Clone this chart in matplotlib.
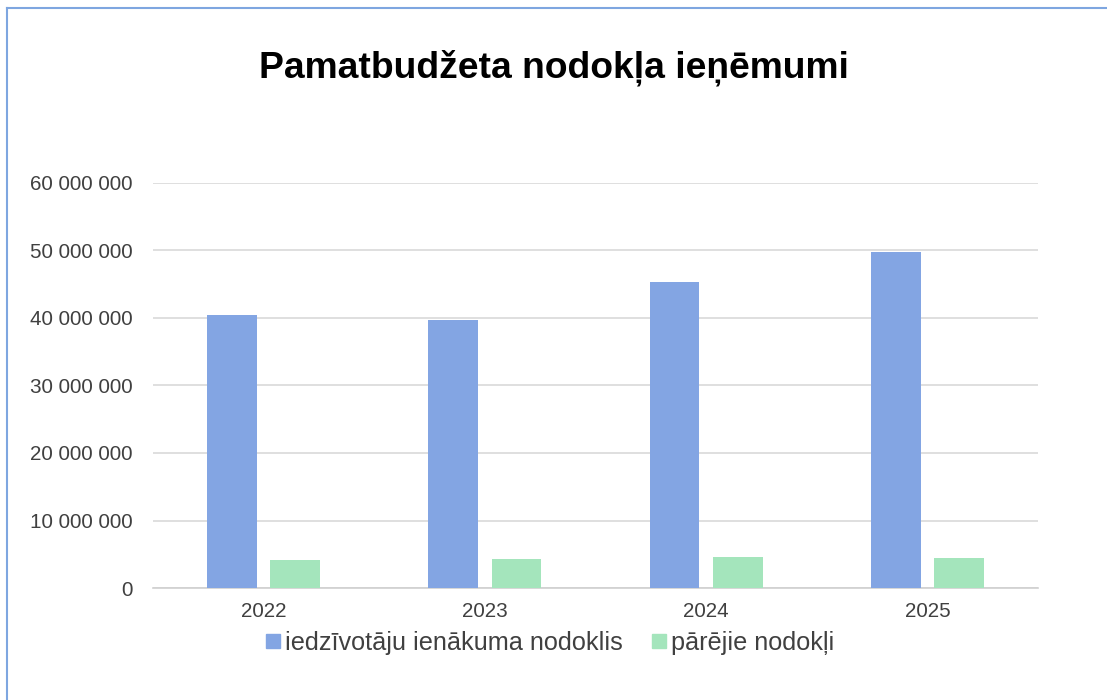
import matplotlib
matplotlib.use("Agg")
import matplotlib.pyplot as plt
import numpy as np
from matplotlib.ticker import FuncFormatter
from matplotlib.lines import Line2D

plt.rcParams['font.family'] = ['Liberation Sans', 'DejaVu Sans']

years = ["2022", "2023", "2024", "2025"]
series_names = ["iedzīvotāju ienākuma nodoklis", "pārējie nodokļi"]
iin = [40400000, 39700000, 45300000, 49800000]
other = [4200000, 4300000, 4550000, 4400000]
title = "Pamatbudžeta nodokļa ieņēmumi"

blue = "#83A5E3"
green = "#A4E5BC"

fig = plt.figure(figsize=(11.07, 7.0), dpi=100)
ax = fig.add_axes([153/1107, 1-588/700, (1038-153)/1107, (588-183)/700])

x = np.arange(len(years))
w = 0.225
off = 0.143
ax.bar(x - off, iin, width=w, color=blue, label=series_names[0], zorder=3)
ax.bar(x + off, other, width=w, color=green, label=series_names[1], zorder=3)

ax.set_xlim(-0.5, len(years) - 0.5)
ax.set_ylim(0, 60000000)
ax.set_yticks(np.arange(0, 60000001, 10000000))
ax.yaxis.set_major_formatter(FuncFormatter(lambda v, p: f"{int(v):,}".replace(",", " ")))
ax.set_xticks(x)
ax.set_xticklabels(years)
ax.grid(axis='y', color='#d9d9d9', linewidth=1.2, zorder=0)
for s in ['top', 'right', 'left']:
    ax.spines[s].set_visible(False)
ax.spines['bottom'].set_color('#d0d0d0')
ax.spines['bottom'].set_linewidth(1.2)
ax.tick_params(axis='both', length=0, labelsize=14.9, colors='#404040')
ax.tick_params(axis='y', pad=15)
ax.tick_params(axis='x', pad=10)

fig.text(0.5, 1-68/700, title, ha='center', va='center', fontsize=26.8, fontweight='bold', color='black')

handles = [Line2D([], [], marker='s', linestyle='none', markersize=10.5, color=blue),
           Line2D([], [], marker='s', linestyle='none', markersize=10.5, color=green)]
fig.legend(handles, series_names, loc='center', bbox_to_anchor=(548/1107, 1-643/700),
           ncol=2, frameon=False, fontsize=18.2, labelcolor='#404040',
           handletextpad=0.0, columnspacing=1.0, handlelength=0.9)

# figure border (left and top visible)
fig.add_artist(Line2D([7/1107, 7/1107], [0, 1-8/700], transform=fig.transFigure, color='#7EA6E0', linewidth=1.5))
fig.add_artist(Line2D([7/1107, 1], [1-8/700, 1-8/700], transform=fig.transFigure, color='#7EA6E0', linewidth=1.5))

fig.savefig("out.png", dpi=100, facecolor='white')
